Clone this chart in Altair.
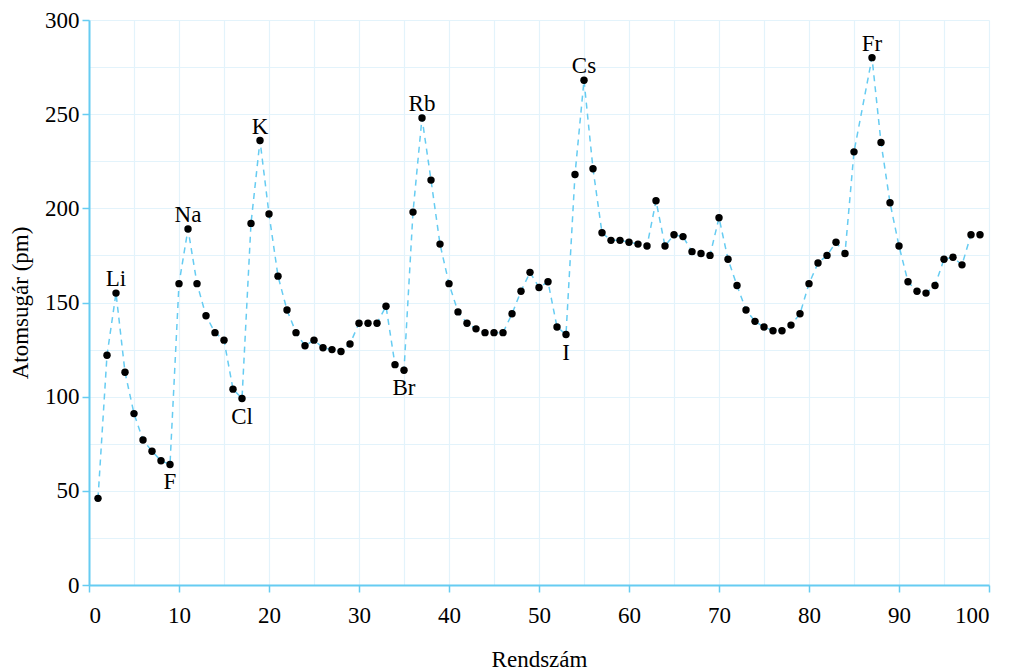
import altair as alt
import pandas as pd

# Atomic numbers (Z = 86 is absent in the reference)
atomic_number = [
    1, 2, 3, 4, 5, 6, 7, 8, 9, 10,
    11, 12, 13, 14, 15, 16, 17, 18, 19, 20,
    21, 22, 23, 24, 25, 26, 27, 28, 29, 30,
    31, 32, 33, 34, 35, 36, 37, 38, 39, 40,
    41, 42, 43, 44, 45, 46, 47, 48, 49, 50,
    51, 52, 53, 54, 55, 56, 57, 58, 59, 60,
    61, 62, 63, 64, 65, 66, 67, 68, 69, 70,
    71, 72, 73, 74, 75, 76, 77, 78, 79, 80,
    81, 82, 83, 84, 85, 87, 88, 89, 90,
    91, 92, 93, 94, 95, 96, 97, 98, 99,
]
radius_pm = [
    46, 122, 155, 113, 91, 77, 71, 66, 64, 160,
    189, 160, 143, 134, 130, 104, 99, 192, 236, 197,
    164, 146, 134, 127, 130, 126, 125, 124, 128, 139,
    139, 139, 148, 117, 114, 198, 248, 215, 181, 160,
    145, 139, 136, 134, 134, 134, 144, 156, 166, 158,
    161, 137, 133, 218, 268, 221, 187, 183, 183, 182,
    181, 180, 204, 180, 186, 185, 177, 176, 175, 195,
    173, 159, 146, 140, 137, 135, 135, 138, 144, 160,
    171, 175, 182, 176, 230, 280, 235, 203, 180,
    161, 156, 155, 159, 173, 174, 170, 186, 186,
]

label_z = [3, 9, 11, 17, 19, 35, 37, 53, 55, 87]
label_text = ["Li", "F", "Na", "Cl", "K", "Br", "Rb", "I", "Cs", "Fr"]
label_side = ["above", "below", "above", "below", "above", "below", "above", "below", "above", "above"]

df = pd.DataFrame({"z": atomic_number, "r": radius_pm})
rmap = dict(zip(atomic_number, radius_pm))
lab = pd.DataFrame({
    "z": label_z,
    "r": [rmap[z] for z in label_z],
    "t": label_text,
    "side": label_side,
})

FONT = "Liberation Serif, Times New Roman, Times, serif"
FS = 23
BLUE = "#66ccf2"
GRID = "#e3f3fb"

x_scale = alt.Scale(domain=[0, 100], nice=False, zero=False)
y_scale = alt.Scale(domain=[0, 300], nice=False)

x_axis = alt.Axis(
    title="Rendszám",
    values=list(range(0, 101, 5)),
    labelExpr="datum.value % 10 === 0 ? datum.label : ''",
    tickOpacity={"condition": {"test": "datum.value % 10 === 0", "value": 1}, "value": 0},
    grid=True, gridColor=GRID, gridWidth=1.2,
    domainColor=BLUE, domainWidth=2,
    tickColor=BLUE, tickSize=7, tickWidth=1.5,
    labelPadding=12, labelFontSize=FS, labelFont=FONT, labelColor="black",
    titleFont=FONT, titleFontSize=FS, titleFontWeight="normal", titleColor="black",
    titlePadding=21,
)
y_axis = alt.Axis(
    title="Atomsugár (pm)",
    values=list(range(0, 301, 25)),
    labelExpr="datum.value % 50 === 0 ? datum.label : ''",
    tickOpacity={"condition": {"test": "datum.value % 50 === 0", "value": 1}, "value": 0},
    grid=True, gridColor=GRID, gridWidth=1.2,
    domainColor=BLUE, domainWidth=2,
    tickColor=BLUE, tickSize=7, tickWidth=1.5,
    labelPadding=3, labelFontSize=FS, labelFont=FONT, labelColor="black",
    titleFont=FONT, titleFontSize=FS, titleFontWeight="normal", titleColor="black",
    titlePadding=12,
)

base = alt.Chart(df).encode(
    x=alt.X("z:Q", scale=x_scale, axis=x_axis),
    y=alt.Y("r:Q", scale=y_scale, axis=y_axis),
)

line = base.mark_line(color=BLUE, strokeWidth=1.5, strokeDash=[6, 5])
points = base.mark_circle(color="black", opacity=1, size=55)

above = alt.Chart(lab).transform_filter("datum.side === 'above'").mark_text(
    font=FONT, fontSize=FS, color="black", baseline="alphabetic", dy=-7
).encode(x=alt.X("z:Q", scale=x_scale), y=alt.Y("r:Q", scale=y_scale), text="t:N")

below = alt.Chart(lab).transform_filter("datum.side === 'below'").mark_text(
    font=FONT, fontSize=FS, color="black", baseline="alphabetic", dy=25
).encode(x=alt.X("z:Q", scale=x_scale), y=alt.Y("r:Q", scale=y_scale), text="t:N")

chart = alt.layer(line, points, above, below).properties(
    width=900,
    height=565,
    autosize=alt.AutoSizeParams(type="none"),
    padding={"left": 81, "top": 12, "right": 20, "bottom": 86},
).configure_view(stroke=None)

chart.save("out.html", embed_options={"renderer": "svg", "actions": False})
